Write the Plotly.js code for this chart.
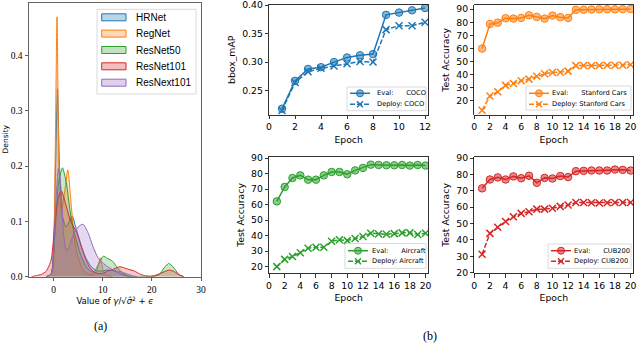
<!DOCTYPE html>
<html>
<head>
<meta charset="utf-8">
<script src="https://cdn.plot.ly/plotly-3.0.1.min.js"></script>
<style>
  html, body { margin: 0; padding: 0; background: #fff; }
  #chart { width: 640px; height: 355px; }
</style>
</head>
<body>
<div id="chart"></div>
<script>
// (a) density of gamma / sqrt(var + eps)
const hrnetX = [-1.5, -0.5, 0, 0.4, 0.8, 1.2, 1.8, 2.5, 3.2, 3.8, 4.5, 5.5, 6.5, 7.5, 8.5, 9.5, 11, 12.5, 14, 15.5];
const hrnetY = [0, 0.005, 0.06, 0.2, 0.34, 0.2, 0.11, 0.09, 0.1, 0.11, 0.09, 0.06, 0.035, 0.02, 0.012, 0.01, 0.012, 0.01, 0.004, 0];

const regnetX = [-1, -0.2, 0.3, 0.7, 1.1, 1.6, 2.2, 2.9, 3.5, 4.2, 5, 6, 7, 8, 8.8, 9.5, 10.2, 11, 12];
const regnetY = [0, 0.01, 0.2, 0.47, 0.2, 0.12, 0.15, 0.193, 0.14, 0.07, 0.035, 0.012, 0.005, 0.004, 0.01, 0.034, 0.008, 0.002, 0];

const resnet50X = [-1.5, -0.5, 0.3, 1, 1.8, 2.6, 3.5, 4.5, 5.5, 6.5, 7.5, 8.2, 9, 10.1, 11, 12, 13, 14, 15, 16, 20, 21.5, 22.5, 23.4, 24.3, 25.5, 26.5];
const resnet50Y = [0, 0.005, 0.08, 0.17, 0.197, 0.17, 0.11, 0.07, 0.04, 0.02, 0.01, 0.008, 0.02, 0.037, 0.033, 0.028, 0.016, 0.007, 0.002, 0, 0, 0.004, 0.016, 0.024, 0.018, 0.004, 0];

const resnet101X = [-4.5, -3.5, -2.5, -1.5, -0.5, 0.3, 1, 1.6, 2.5, 3.5, 4.7, 5.8, 7, 8, 9, 10, 11, 12, 13.5, 15, 16.5, 17.5, 18.5, 19.5, 20.5, 21.5, 22.5, 23.6, 24.6, 25.6, 26.5];
const resnet101Y = [0, 0.002, 0.004, 0.01, 0.03, 0.1, 0.145, 0.155, 0.13, 0.1, 0.08, 0.05, 0.022, 0.01, 0.006, 0.006, 0.01, 0.013, 0.018, 0.014, 0.01, 0.005, 0.002, 0.001, 0.002, 0.005, 0.009, 0.012, 0.009, 0.003, 0];

const resnext101X = [-1.5, -0.5, 0, 0.5, 1, 1.5, 2, 2.6, 3.2, 4, 5, 6, 7, 8, 9, 10, 11, 12, 13, 14, 15, 16, 17];
const resnext101Y = [0, 0.004, 0.04, 0.14, 0.196, 0.16, 0.08, 0.047, 0.055, 0.075, 0.09, 0.095, 0.08, 0.055, 0.035, 0.025, 0.018, 0.013, 0.01, 0.008, 0.005, 0.002, 0];

const densityNames = ['HRNet', 'RegNet', 'ResNet50', 'ResNet101', 'ResNext101'];

// (b) accuracy per epoch
const cocoEpochs = [1, 2, 3, 4, 5, 6, 7, 8, 9, 10, 11, 12];
const cocoEval = [0.218, 0.267, 0.288, 0.291, 0.300, 0.308, 0.312, 0.314, 0.383, 0.387, 0.391, 0.395];
const cocoDeploy = [0.215, 0.264, 0.283, 0.289, 0.293, 0.297, 0.301, 0.300, 0.357, 0.364, 0.364, 0.370];

const epochs20 = [1, 2, 3, 4, 5, 6, 7, 8, 9, 10, 11, 12, 13, 14, 15, 16, 17, 18, 19, 20];
const carsEval = [59.9, 78.7, 79.7, 83.1, 82.8, 83.3, 85.3, 84.1, 82.8, 85.1, 83.9, 83.3, 89.5, 89.6, 89.8, 89.9, 90.0, 89.9, 90.0, 90.1];
const carsDeploy = [12.8, 23.7, 27.0, 31.8, 33.3, 35.3, 36.6, 38.8, 40.7, 41.7, 41.9, 42.7, 46.9, 47.0, 46.8, 47.0, 47.2, 47.2, 47.2, 47.6];

const aircraftEval = [62.1, 71.4, 77.2, 78.9, 76.1, 76.1, 78.9, 81.1, 81.1, 79.6, 82.1, 83.7, 85.8, 85.6, 85.4, 85.4, 85.6, 85.2, 85.6, 85.2];
const aircraftDeploy = [20.0, 24.7, 26.5, 29.0, 31.9, 32.5, 32.5, 36.4, 37.3, 36.8, 38.1, 39.4, 41.6, 41.1, 40.9, 41.3, 41.8, 41.8, 40.7, 41.6];

const cubEval = [71.5, 76.9, 78.2, 76.9, 78.8, 77.7, 79.2, 74.9, 77.9, 77.5, 79.0, 78.4, 82.0, 82.2, 82.4, 82.4, 82.4, 83.0, 82.8, 82.4];
const cubDeploy = [31.2, 44.0, 47.7, 51.3, 54.1, 56.2, 57.2, 58.8, 58.8, 59.4, 60.5, 61.3, 62.9, 62.9, 62.7, 62.5, 62.7, 62.9, 62.9, 62.9];

const epochTicks2 = [0, 2, 4, 6, 8, 10, 12, 14, 16, 18, 20];
const accTicks = [20, 30, 40, 50, 60, 70, 80, 90];

const C = {
    blue: '31,119,180',
    orange: '255,127,14',
    green: '44,160,44',
    red: '214,39,40',
    purple: '148,103,189'
};
const densityColors = [C.blue, C.orange, C.green, C.red, C.purple];

const SANS = 'DejaVu Sans, sans-serif';
const SERIF = 'Liberation Serif, DejaVu Serif, serif';
const LEGEND_SANS = 'Liberation Sans, Arial, sans-serif';
const nb = n => '\u00a0'.repeat(n);

// pixel -> paper (margins are zero, so paper == page)
const px = v => v / 640;
const py = v => 1 - v / 355;

function densityTrace(x, y, rgb) {
    return {
        type: 'scatter', mode: 'lines', x: x, y: y,
        xaxis: 'x', yaxis: 'y',
        fill: 'tozeroy', fillcolor: `rgba(${rgb},0.25)`,
        line: { color: `rgb(${rgb})`, width: 1, shape: 'spline', smoothing: 0.6 },
        hoverinfo: 'skip'
    };
}

function evalTrace(x, y, rgb, ax) {
    return {
        type: 'scatter', mode: 'lines+markers', x: x, y: y,
        xaxis: 'x' + ax, yaxis: 'y' + ax,
        line: { color: `rgb(${rgb})`, width: 1.5 },
        marker: { symbol: 'circle', size: 7.5, color: `rgba(${rgb},0.55)`, line: { color: `rgb(${rgb})`, width: 1 } },
        hoverinfo: 'skip'
    };
}

function deployTrace(x, y, rgb, ax) {
    return {
        type: 'scatter', mode: 'lines+markers', x: x, y: y,
        xaxis: 'x' + ax, yaxis: 'y' + ax,
        line: { color: `rgb(${rgb})`, width: 1.5, dash: '5px,2px' },
        marker: { symbol: 'x-thin', size: 7, color: `rgb(${rgb})`, line: { color: `rgb(${rgb})`, width: 1.5 } },
        hoverinfo: 'skip'
    };
}

const data = [
    densityTrace(hrnetX, hrnetY, C.blue),
    densityTrace(regnetX, regnetY, C.orange),
    densityTrace(resnet50X, resnet50Y, C.green),
    densityTrace(resnet101X, resnet101Y, C.red),
    densityTrace(resnext101X, resnext101Y, C.purple),
    evalTrace(cocoEpochs, cocoEval, C.blue, 2),
    deployTrace(cocoEpochs, cocoDeploy, C.blue, 2),
    evalTrace(epochs20, carsEval, C.orange, 3),
    deployTrace(epochs20, carsDeploy, C.orange, 3),
    evalTrace(epochs20, aircraftEval, C.green, 4),
    deployTrace(epochs20, aircraftDeploy, C.green, 4),
    evalTrace(epochs20, cubEval, C.red, 5),
    deployTrace(epochs20, cubDeploy, C.red, 5)
];

// Hand-built legends: plotly's own entries are too tall for these small panels
const shapes = [];
const annotations = [];

function legendFrame(l, t, r, b) {
    shapes.push({
        type: 'rect', xref: 'paper', yref: 'paper', layer: 'above',
        x0: px(l), x1: px(r), y0: py(b), y1: py(t),
        fillcolor: 'rgba(255,255,255,0.8)', line: { color: '#d0d0d0', width: 0.8 }
    });
}

function legendText(x, y, text, size, family) {
    annotations.push({
        text: text, x: px(x), y: py(y), xref: 'paper', yref: 'paper',
        xanchor: 'left', yanchor: 'middle', showarrow: false,
        font: { family: family, size: size, color: '#000' }
    });
}

function line(x0, y0, x1, y1, rgb, width, dash) {
    shapes.push({
        type: 'line', xref: 'paper', yref: 'paper', layer: 'above',
        x0: px(x0), y0: py(y0), x1: px(x1), y1: py(y1),
        line: { color: `rgb(${rgb})`, width: width, dash: dash || 'solid' }
    });
}

function smallLegend(l, t, r, b, rows, textX, rgb, name) {
    legendFrame(l, t, r, b);
    const cx = l + 13;
    // eval row: solid line + circle
    line(l + 3, rows[0], l + 23, rows[0], rgb, 1.5);
    shapes.push({
        type: 'circle', xref: 'paper', yref: 'paper', layer: 'above',
        x0: px(cx - 3.5), x1: px(cx + 3.5), y0: py(rows[0] + 3.5), y1: py(rows[0] - 3.5),
        fillcolor: `rgba(${rgb},0.55)`, line: { color: `rgb(${rgb})`, width: 1 }
    });
    legendText(textX, rows[0], 'Eval:' + nb(6) + name, 6.7, SANS);
    // deploy row: dashed line + x
    line(l + 3, rows[1], l + 23, rows[1], rgb, 1.5, '5px,2px');
    line(cx - 3, rows[1] - 3, cx + 3, rows[1] + 3, rgb, 1.5);
    line(cx - 3, rows[1] + 3, cx + 3, rows[1] - 3, rgb, 1.5);
    legendText(textX, rows[1], 'Deploy: ' + name, 6.7, SANS);
}

// density legend
legendFrame(97, 9.3, 196, 94);
const densityRows = [17.3, 33.6, 50, 66.3, 82.7];
densityNames.forEach((name, i) => {
    const rgb = densityColors[i];
    const r = densityRows[i];
    shapes.push({
        type: 'rect', xref: 'paper', yref: 'paper', layer: 'above',
        x0: px(101.7), x1: px(126), y0: py(r + 3.5), y1: py(r - 3.5),
        fillcolor: `rgba(${rgb},0.3)`, line: { color: `rgb(${rgb})`, width: 1 }
    });
    legendText(134, r, name, 10, LEGEND_SANS);
});

smallLegend(347, 87, 426, 110.7, [93.3, 104.3], 375, C.blue, 'COCO');
smallLegend(526, 86, 631, 110, [93.3, 104.3], 550, C.orange, 'Stanford Cars');
smallLegend(345, 243.5, 426, 268.3, [250.7, 261.3], 370, C.green, 'Aircraft');
smallLegend(548, 244, 631, 268.3, [250.7, 261.3], 572, C.red, 'CUB200');

annotations.push(
    { text: 'Density', x: px(5.5), y: py(139), xref: 'paper', yref: 'paper', showarrow: false,
      textangle: -90, xanchor: 'center', yanchor: 'middle', font: { family: SANS, size: 7.5, color: '#000' } },
    { text: '(a)', x: px(100), y: py(326), xref: 'paper', yref: 'paper', showarrow: false,
      xanchor: 'center', yanchor: 'middle', font: { family: SERIF, size: 12, color: '#000' } },
    { text: '(b)', x: px(430), y: py(335.5), xref: 'paper', yref: 'paper', showarrow: false,
      xanchor: 'center', yanchor: 'middle', font: { family: SERIF, size: 12, color: '#000' } }
);

function rightAxis(domain, range, ticks, fmt, title) {
    return {
        domain: domain, range: range, tickvals: ticks, tickformat: fmt,
        showgrid: false, zeroline: false,
        showline: true, mirror: true, linecolor: '#000', linewidth: 0.8,
        ticks: 'outside', ticklen: 3.5, tickwidth: 0.8, tickcolor: '#000',
        ticklabeloverflow: 'allow',
        tickfont: { family: SANS, size: 9.3, color: '#000' },
        title: { text: title, font: { family: SANS, size: 9.3, color: '#000' }, standoff: 4 }
    };
}

const colL = [px(269), px(428.3)];
const colR = [px(474.3), px(633.3)];
const rowT = [py(115), py(4.6)];
const rowB = [py(273.3), py(156.6)];

const layout = {
    width: 640, height: 355,
    margin: { l: 0, r: 0, t: 0, b: 0 },
    paper_bgcolor: '#fff', plot_bgcolor: '#fff',
    font: { family: SANS, color: '#000' },
    showlegend: false,
    xaxis: {
        domain: [px(29), px(201)], range: [-5, 30], tickvals: [0, 10, 20, 30],
        showgrid: false, zeroline: false,
        showline: true, mirror: true, linecolor: '#666', linewidth: 1,
        ticks: 'outside', ticklen: 3.5, tickwidth: 0.8, tickcolor: '#333',
        ticklabeloverflow: 'allow',
        tickfont: { family: SERIF, size: 9.5, color: '#000' },
        title: {
            text: 'Value of <i>γ</i>/√<i>σ̂</i><sup>2</sup> + <i>ϵ</i>',
            font: { family: SANS, size: 8.5, color: '#000' }, standoff: 3
        }
    },
    yaxis: {
        domain: [py(276.7), py(3)], range: [0, 0.495],
        tickvals: [0, 0.1, 0.2, 0.3, 0.4], tickformat: '.1f',
        showgrid: false, zeroline: false,
        showline: true, mirror: true, linecolor: '#666', linewidth: 1,
        ticks: 'outside', ticklen: 3.5, tickwidth: 0.8, tickcolor: '#333',
        ticklabeloverflow: 'allow',
        tickfont: { family: SERIF, size: 9.5, color: '#000' }
    },
    xaxis2: Object.assign(rightAxis(colL, [0, 12.25], [0, 2, 4, 6, 8, 10, 12], 'd', 'Epoch'), { anchor: 'y2' }),
    yaxis2: Object.assign(rightAxis(rowT, [0.207, 0.401], [0.25, 0.30, 0.35, 0.40], '.2f', 'bbox_mAP'), { anchor: 'x2' }),
    xaxis3: Object.assign(rightAxis(colR, [0, 20.35], epochTicks2, 'd', 'Epoch'), { anchor: 'y3' }),
    yaxis3: Object.assign(rightAxis(rowT, [9.2, 93.5], accTicks, 'd', 'Test Accuracy'), { anchor: 'x3' }),
    xaxis4: Object.assign(rightAxis(colL, [0, 20.35], epochTicks2, 'd', 'Epoch'), { anchor: 'y4' }),
    yaxis4: Object.assign(rightAxis(rowB, [15.7, 91], accTicks, 'd', 'Test Accuracy'), { anchor: 'x4' }),
    xaxis5: Object.assign(rightAxis(colR, [0, 20.35], epochTicks2, 'd', 'Epoch'), { anchor: 'y5' }),
    yaxis5: Object.assign(rightAxis(rowB, [19.6, 90.9], accTicks, 'd', 'Test Accuracy'), { anchor: 'x5' }),
    shapes: shapes,
    annotations: annotations
};

Plotly.newPlot('chart', data, layout, { staticPlot: true, displayModeBar: false });
</script>
</body>
</html>
